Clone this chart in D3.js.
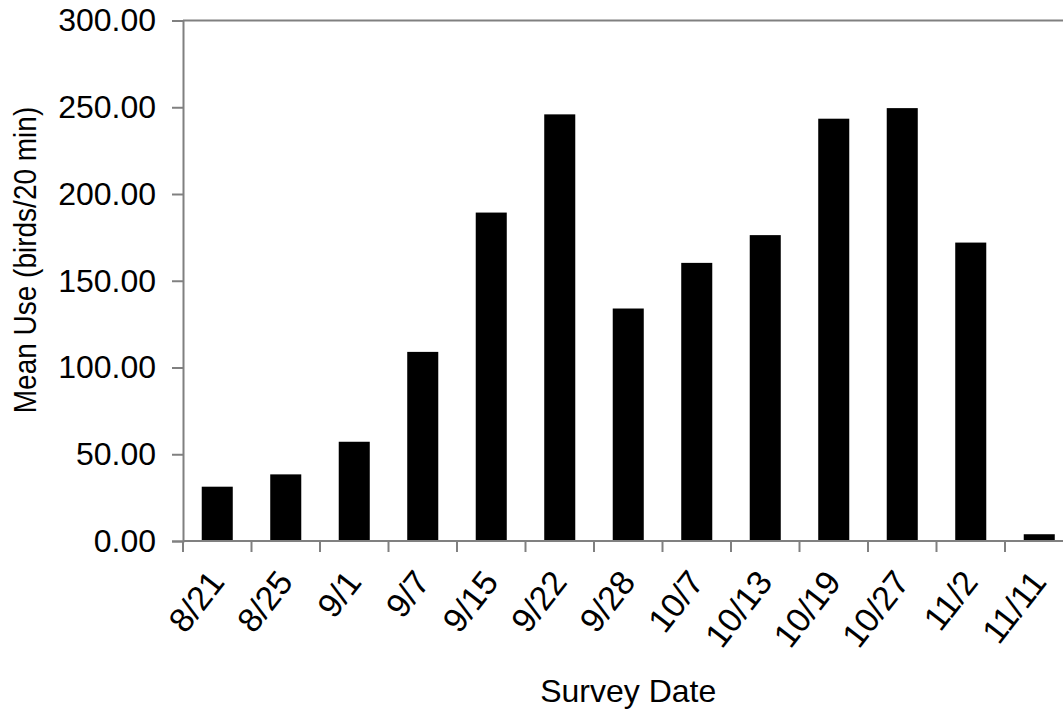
<!DOCTYPE html>
<html>
<head>
<meta charset="utf-8">
<script src="https://cdn.jsdelivr.net/npm/d3@7"></script>
<style>
  html, body { margin: 0; padding: 0; background: #fff; overflow: hidden; }
  text { font-family: "Liberation Sans", Arial, sans-serif; fill: #000; }
</style>
</head>
<body>
<svg id="chart" width="1063" height="709"></svg>
<script>
const categories = ["8/21", "8/25", "9/1", "9/7", "9/15", "9/22", "9/28", "10/7", "10/13", "10/19", "10/27", "11/2", "11/11"];
const meanUse = [31.3, 38.4, 57.2, 109.0, 189.3, 245.9, 134.0, 160.3, 176.3, 243.4, 249.5, 172.0, 3.9];
const yTicks = [0, 50, 100, 150, 200, 250, 300];
const yTitle = "Mean Use (birds/20 min)";
const xTitle = "Survey Date";

const svg = d3.select("#chart");
const x0 = 183, x1 = 183 + 13 * 68.5;
const yBottom = 541, yTop = 20.5;
const axisColor = "#808080";

const x = d3.scaleBand().domain(categories).range([x0, x1])
  .paddingInner(0.547).paddingOuter(0.547 / 2);
const y = d3.scaleLinear().domain([0, 300]).range([yBottom, yTop]);

// top frame line
svg.append("line")
  .attr("x1", x0).attr("x2", x1)
  .attr("y1", y(300)).attr("y2", y(300))
  .attr("stroke", axisColor).attr("stroke-width", 2);

// bars
svg.append("g").selectAll("rect")
  .data(categories.map((c, i) => ({ c, v: meanUse[i] })))
  .join("rect")
  .attr("x", d => x(d.c))
  .attr("width", x.bandwidth())
  .attr("y", d => y(d.v))
  .attr("height", d => y(0) - y(d.v))
  .attr("fill", "#000");

// y axis
const yAxis = svg.append("g")
  .attr("transform", `translate(${x0},0)`)
  .call(d3.axisLeft(y).tickValues(yTicks).tickFormat(d3.format(".2f")).tickSize(11).tickPadding(16));
yAxis.select(".domain").attr("stroke", axisColor).attr("stroke-width", 2);
yAxis.selectAll(".tick line").attr("stroke", axisColor).attr("stroke-width", 2);
yAxis.selectAll(".tick text")
  .style("font-family", "'Liberation Sans', Arial, sans-serif")
  .style("font-size", "32px").attr("fill", "#000");

// x axis baseline
svg.append("line")
  .attr("x1", x0).attr("x2", x1)
  .attr("y1", y(0)).attr("y2", y(0))
  .attr("stroke", axisColor).attr("stroke-width", 2);

// x ticks at category boundaries
const boundaries = d3.range(categories.length + 1).map(i => x0 + i * x.step());
svg.append("g").selectAll("line")
  .data(boundaries)
  .join("line")
  .attr("x1", d => d).attr("x2", d => d)
  .attr("y1", y(0)).attr("y2", y(0) + 11)
  .attr("stroke", axisColor).attr("stroke-width", 2);

// x tick labels rotated
svg.append("g").selectAll("text")
  .data(categories)
  .join("text")
  .attr("transform", d => `translate(${x(d) + x.bandwidth() / 2 - 10},${y(0) + 27}) rotate(-52)`)
  .attr("text-anchor", "end")
  .attr("dy", "0.7em")
  .style("font-size", "34px")
  .text(d => d);

// axis titles
svg.append("text")
  .attr("transform", `translate(36,260) rotate(-90) scale(1,1.1)`)
  .attr("text-anchor", "middle")
  .style("font-size", "28px")
  .text(yTitle);

svg.append("text")
  .attr("x", (x0 + x1) / 2)
  .attr("y", 702)
  .attr("text-anchor", "middle")
  .style("font-size", "32px")
  .text(xTitle);
</script>
</body>
</html>
